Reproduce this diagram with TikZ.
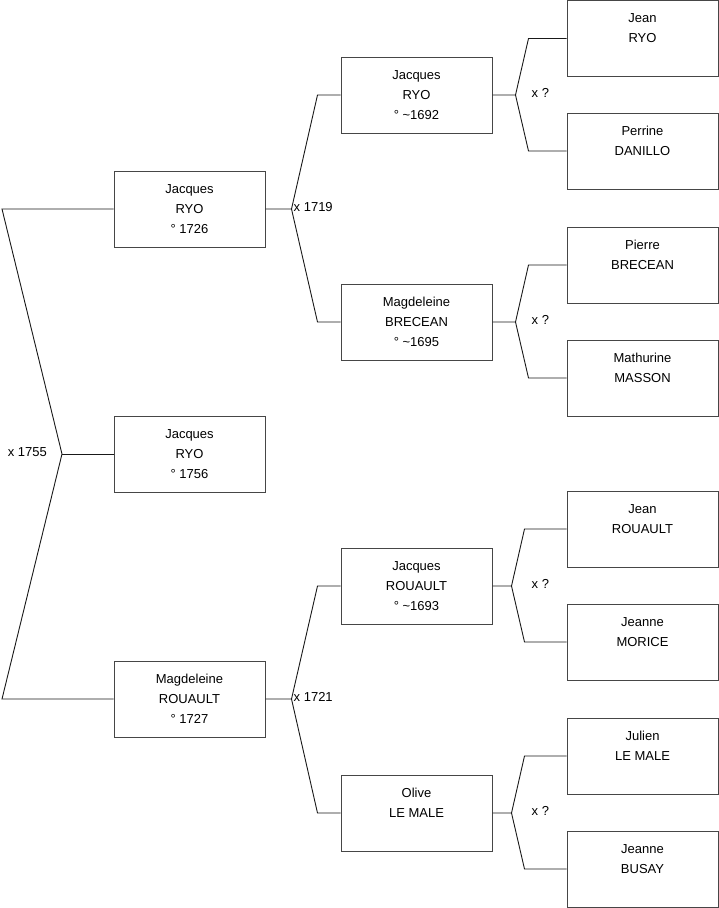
\documentclass[tikz,border=0pt]{standalone}
\usepackage{fontspec}
\setmainfont{Liberation Sans}
\usetikzlibrary{positioning}
\definecolor{cLine}{RGB}{25,25,25}
\definecolor{cBorder}{RGB}{70,70,70}
\tikzset{
  personbox/.style={rectangle, draw=cBorder, fill=white, line width=1pt,
                    minimum width=151pt, minimum height=76pt, inner sep=0pt,
                    align=center, font=\fontsize{13}{20}\selectfont},
  link/.style={draw=cLine, line width=0.9pt},
  marriage/.style={inner sep=0pt, font=\fontsize{13}{16}\selectfont}
}

\begin{document}
\begin{tikzpicture}[x=1pt, y=-1pt]
  \useasboundingbox (0,0) rectangle (719,908);

  % generation 1
  \node[personbox] (father) at (189.5,209) {Jacques\\RYO\\° 1726};
  \node[personbox] (child)  at (189.5,454) {Jacques\\RYO\\° 1756};
  \node[personbox] (mother) at (189.5,699) {Magdeleine\\ROUAULT\\° 1727};

  % generation 2
  \node[personbox] (ffather) at (416.5,95)  {Jacques\\RYO\\° \textasciitilde1692};
  \node[personbox] (fmother) at (416.5,322) {Magdeleine\\BRECEAN\\° \textasciitilde1695};
  \node[personbox] (mfather) at (416.5,586) {Jacques\\ROUAULT\\° \textasciitilde1693};
  \node[personbox] (mmother) at (416.5,813) {Olive\\LE MALE\\~};

  % generation 3
  \node[personbox] (fff) at (642.5,38.5) {Jean\\RYO\\~};
  \node[personbox] (ffm) at (642.5,151)  {Perrine\\DANILLO\\~};
  \node[personbox] (fmf) at (642.5,265)  {Pierre\\BRECEAN\\~};
  \node[personbox] (fmm) at (642.5,378)  {Mathurine\\MASSON\\~};
  \node[personbox] (mff) at (642.5,529)  {Jean\\ROUAULT\\~};
  \node[personbox] (mfm) at (642.5,642)  {Jeanne\\MORICE\\~};
  \node[personbox] (mmf) at (642.5,756)  {Julien\\LE MALE\\~};
  \node[personbox] (mmm) at (642.5,869)  {Jeanne\\BUSAY\\~};

  % couple of the child
  \coordinate (j0) at (62,454);
  \coordinate (t0) at (2,209);
  \coordinate (b0) at (2,699);
  \draw[link] (father.west) -- (t0) -- (j0) -- (b0) -- (mother.west);
  \draw[link] (j0) -- (child.west);
  \node[marriage, anchor=east, yshift=2pt] (m0) at ([xshift=-15pt]j0) {x 1755};

  % parents of the father and of the mother
  \coordinate (j1) at ([xshift=26pt]father.east);
  \draw[link] (father.east) -- (j1) -- ([xshift=-23pt]ffather.west) -- (ffather.west);
  \draw[link] (j1) -- ([xshift=-23pt]fmother.west) -- (fmother.west);
  \node[marriage, anchor=west, yshift=2pt] (m1) at ([xshift=2pt]j1) {x 1719};

  \coordinate (j2) at ([xshift=26pt]mother.east);
  \draw[link] (mother.east) -- (j2) -- ([xshift=-23pt]mfather.west) -- (mfather.west);
  \draw[link] (j2) -- ([xshift=-23pt]mmother.west) -- (mmother.west);
  \node[marriage, anchor=west, yshift=2pt] (m2) at ([xshift=2pt]j2) {x 1721};

  % grand-parents
  \coordinate (j3) at ([xshift=23pt]ffather.east);
  \draw[link] (ffather.east) -- (j3) -- ([xshift=-38pt]fff.west) -- (fff.west);
  \draw[link] (j3) -- ([xshift=-38pt]ffm.west) -- (ffm.west);
  \node[marriage, anchor=west, yshift=2pt] (m3) at ([xshift=16pt]j3) {x ?};

  \coordinate (j4) at ([xshift=23pt]fmother.east);
  \draw[link] (fmother.east) -- (j4) -- ([xshift=-38pt]fmf.west) -- (fmf.west);
  \draw[link] (j4) -- ([xshift=-38pt]fmm.west) -- (fmm.west);
  \node[marriage, anchor=west, yshift=2pt] (m4) at ([xshift=16pt]j4) {x ?};

  \coordinate (j5) at ([xshift=19pt]mfather.east);
  \draw[link] (mfather.east) -- (j5) -- ([xshift=-42pt]mff.west) -- (mff.west);
  \draw[link] (j5) -- ([xshift=-42pt]mfm.west) -- (mfm.west);
  \node[marriage, anchor=west, yshift=2pt] (m5) at ([xshift=20pt]j5) {x ?};

  \coordinate (j6) at ([xshift=19pt]mmother.east);
  \draw[link] (mmother.east) -- (j6) -- ([xshift=-42pt]mmf.west) -- (mmf.west);
  \draw[link] (j6) -- ([xshift=-42pt]mmm.west) -- (mmm.west);
  \node[marriage, anchor=west, yshift=2pt] (m6) at ([xshift=20pt]j6) {x ?};
\end{tikzpicture}
\end{document}
